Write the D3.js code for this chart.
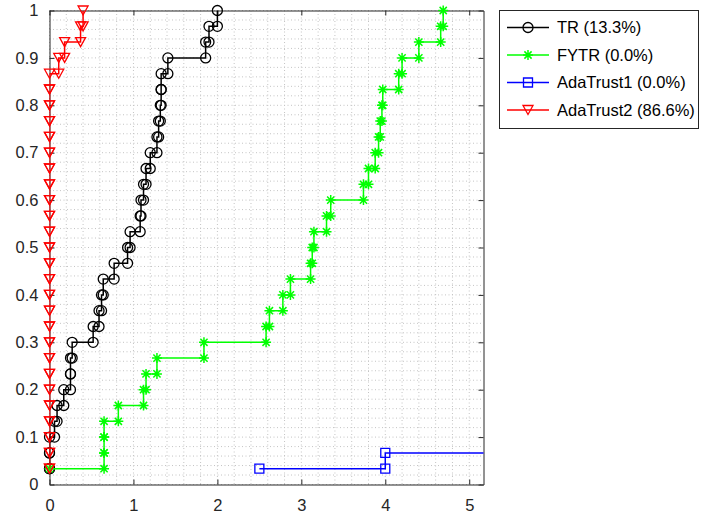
<!DOCTYPE html>
<html>
<head>
<meta charset="utf-8">
<script src="https://cdn.jsdelivr.net/npm/d3@7"></script>
<style>
  body { margin: 0; background: #fff; }
  svg { display: block; font-family: "Liberation Sans", Arial, sans-serif; }
</style>
</head>
<body>
<div id="chart"></div>
<script>
// performance profile, 30 problems, tau values sorted per solver
const nProblems = 30;
const seriesNames = ['TR (13.3%)', 'FYTR (0.0%)', 'AdaTrust1 (0.0%)', 'AdaTrust2 (86.6%)'];
const seriesColors = ['#000000', '#00ff00', '#0000ff', '#ff0000'];
const seriesMarkers = ['circle', 'star', 'square', 'triangle'];

const trTau = [0, 0, 0, 0.06, 0.09, 0.17, 0.25, 0.25, 0.27, 0.52,
  0.59, 0.62, 0.64, 0.77, 0.93, 0.96, 1.08, 1.09, 1.12, 1.15,
  1.20, 1.28, 1.30, 1.32, 1.33, 1.33, 1.41, 1.86, 1.90, 2.00];
const fytrTau = [0, 0.65, 0.65, 0.65, 0.82, 1.12, 1.15, 1.28, 1.84, 2.58,
  2.62, 2.78, 2.87, 3.11, 3.13, 3.15, 3.30, 3.35, 3.74, 3.80,
  3.88, 3.92, 3.94, 3.96, 3.97, 4.16, 4.20, 4.40, 4.66, 4.69];
const ada1Tau = [2.5, 4.0];
const ada2Tau = [0, 0, 0, 0, 0, 0, 0, 0, 0, 0,
  0, 0, 0, 0, 0, 0, 0, 0, 0, 0,
  0, 0, 0, 0, 0, 0, 0.11, 0.18, 0.37, 0.40];
const tauTail = 5.6;

const xTicks = [0, 1, 2, 3, 4, 5];
const yTicks = [0, 0.1, 0.2, 0.3, 0.4, 0.5, 0.6, 0.7, 0.8, 0.9, 1];
const xLimits = [0, 5.17];

const margin = {top: 10.5, right: 217.5, bottom: 33.5, left: 49.5};
const W = 701, H = 518;
const width = W - margin.left - margin.right;
const height = H - margin.top - margin.bottom;

const svg = d3.select('#chart').append('svg')
  .attr('width', W)
  .attr('height', H);

const g = svg.append('g')
  .attr('transform', 'translate(' + margin.left + ',' + margin.top + ')');

const x = d3.scaleLinear().domain(xLimits).range([0, width]);
const y = d3.scaleLinear().domain([0, 1]).range([height, 0]);

// grid (minor + major, dotted)
const xMinor = d3.range(0, xLimits[1] + 1e-9, 0.2);
const yMinor = d3.range(0, 1.0001, 0.02);
const grid = g.append('g').attr('class', 'grid');
grid.selectAll('.vminor').data(xMinor).enter().append('line')
  .attr('x1', d => x(d)).attr('x2', d => x(d))
  .attr('y1', 0).attr('y2', height)
  .attr('stroke', '#c4c4c4').attr('stroke-width', 1)
  .attr('stroke-dasharray', '1,2.5');
grid.selectAll('.hminor').data(yMinor).enter().append('line')
  .attr('y1', d => y(d)).attr('y2', d => y(d))
  .attr('x1', 0).attr('x2', width)
  .attr('stroke', '#c4c4c4').attr('stroke-width', 1)
  .attr('stroke-dasharray', '1,2.5');

g.append('clipPath').attr('id', 'plotclip')
  .append('rect').attr('width', width).attr('height', height);

// axes, ticks pointing inward
const axisColor = '#262626';
const xAxis = d3.axisBottom(x).tickValues(xTicks).tickFormat(d3.format('d'))
  .tickSizeInner(-5).tickSizeOuter(0).tickPadding(15);
const yAxis = d3.axisLeft(y).tickValues(yTicks).tickFormat(d3.format('~g'))
  .tickSizeInner(-5).tickSizeOuter(0).tickPadding(11);

g.append('g')
  .attr('class', 'x axis')
  .attr('transform', 'translate(0,' + height + ')')
  .call(xAxis);
g.append('g')
  .attr('class', 'y axis')
  .call(yAxis);
g.append('g')
  .attr('class', 'x axis top')
  .call(d3.axisTop(x).tickValues(xTicks).tickFormat('').tickSizeInner(-5).tickSizeOuter(0));
g.append('g')
  .attr('class', 'y axis right')
  .attr('transform', 'translate(' + width + ',0)')
  .call(d3.axisRight(y).tickValues(yTicks).tickFormat('').tickSizeInner(-5).tickSizeOuter(0));

g.selectAll('.axis path, .axis line').attr('stroke', axisColor).attr('stroke-width', 1);
g.selectAll('.axis text')
  .attr('fill', axisColor)
  .style('font-size', '16.5px')
  .style('font-family', '"Liberation Sans", Arial, sans-serif');

// stairs vertices of a profile; unsolved problems keep the last level to the right
function stairs(tau) {
  const pts = [[tau[0], 1 / nProblems]];
  for (let i = 1; i < tau.length; i++) {
    pts.push([tau[i], i / nProblems]);
    pts.push([tau[i], (i + 1) / nProblems]);
  }
  if (tau.length < nProblems) pts.push([tauTail, tau.length / nProblems]);
  return pts;
}

const markerPath = {
  circle: d3.symbol().type(d3.symbolCircle).size(Math.PI * 25)(),
  square: 'M-4.5,-4.5H4.5V4.5H-4.5Z',
  triangle: 'M-5,-4.5L5,-4.5L0,4.5Z',
  star: 'M-5,0H5M0,-5V5M-3.6,-3.6L3.6,3.6M-3.6,3.6L3.6,-3.6'
};

const allTau = [trTau, fytrTau, ada1Tau, ada2Tau];
const line = d3.line().x(d => x(d[0])).y(d => y(d[1]));

allTau.forEach((tau, k) => {
  const pts = stairs(tau);
  const s = g.append('g').attr('class', 'series');
  s.append('path')
    .attr('d', line(pts))
    .attr('clip-path', 'url(#plotclip)')
    .attr('fill', 'none')
    .attr('stroke', seriesColors[k])
    .attr('stroke-width', 1.5);
  s.selectAll('path.mk')
    .data(pts.filter(p => p[0] <= xLimits[1]))
    .enter().append('path')
    .attr('class', 'mk')
    .attr('d', markerPath[seriesMarkers[k]])
    .attr('transform', d => 'translate(' + x(d[0]) + ',' + y(d[1]) + ')')
    .attr('fill', 'none')
    .attr('stroke', seriesColors[k])
    .attr('stroke-width', seriesMarkers[k] === 'star' ? 1.5 : 1.3);
});

// legend
const legend = svg.append('g').attr('class', 'legend');
legend.append('rect')
  .attr('x', 499.5).attr('y', 10.5)
  .attr('width', 199).attr('height', 118)
  .attr('fill', '#fff')
  .attr('stroke', axisColor)
  .attr('stroke-width', 1);

seriesNames.forEach((name, k) => {
  const ly = 27.5 + k * 27.5;
  const row = legend.append('g');
  row.append('line')
    .attr('x1', 507).attr('x2', 549)
    .attr('y1', ly).attr('y2', ly)
    .attr('stroke', seriesColors[k]).attr('stroke-width', 1.5);
  row.append('path')
    .attr('d', markerPath[seriesMarkers[k]])
    .attr('transform', 'translate(528,' + ly + ')')
    .attr('fill', 'none')
    .attr('stroke', seriesColors[k])
    .attr('stroke-width', seriesMarkers[k] === 'star' ? 1.5 : 1.3);
  row.append('text')
    .attr('x', 557)
    .attr('y', ly)
    .attr('dy', '0.35em')
    .attr('fill', '#000')
    .style('font-size', '16.5px')
    .text(name);
});
</script>
</body>
</html>
